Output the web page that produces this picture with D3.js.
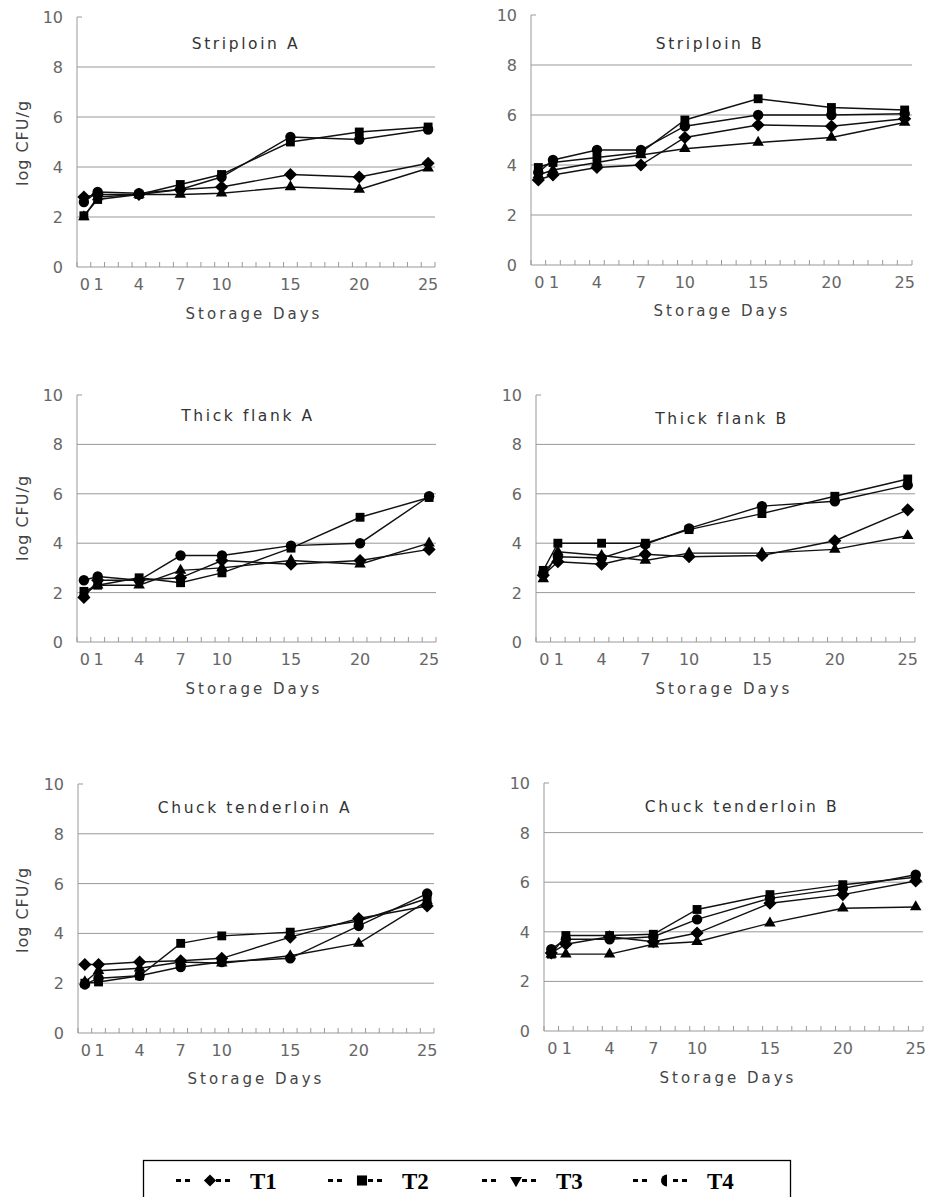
<!DOCTYPE html>
<html>
<head>
<meta charset="utf-8">
<script src="https://cdn.jsdelivr.net/npm/d3@7"></script>
<style>
  body { margin: 0; background: #fff; }
  .chart text { font-family: "DejaVu Sans", sans-serif; }
  .legend text { font-family: "Liberation Serif", "Times New Roman", serif; font-weight: bold; }
</style>
</head>
<body>
<div id="viz"></div>
<script>
// storage days (x values)
var days = [0, 1, 4, 7, 10, 15, 20, 25];
var dayLabels = [0, 1, 4, 7, 10, 15, 20, 25];
var yTicks = [0, 2, 4, 6, 8, 10];
var treatments = ["T1", "T2", "T3", "T4"];
var titles = ["Striploin A", "Striploin B", "Thick flank A", "Thick flank B", "Chuck tenderloin A", "Chuck tenderloin B"];

// log CFU/g, one row per treatment T1..T4
var striploinA = [
  [2.8, 2.9, 2.9, 3.1, 3.2, 3.7, 3.6, 4.15],
  [2.05, 2.7, 2.9, 3.3, 3.7, 5.0, 5.4, 5.6],
  [2.0, 2.8, 2.9, 2.9, 2.95, 3.2, 3.1, 3.95],
  [2.6, 3.0, 2.95, 3.1, 3.6, 5.2, 5.1, 5.5]
];
var striploinB = [
  [3.4, 3.6, 3.9, 4.0, 5.1, 5.6, 5.55, 5.85],
  [3.9, 4.1, 4.3, 4.5, 5.8, 6.65, 6.3, 6.2],
  [3.6, 3.8, 4.1, 4.4, 4.65, 4.9, 5.1, 5.7],
  [3.7, 4.2, 4.6, 4.6, 5.55, 6.0, 6.0, 6.05]
];
var thickFlankA = [
  [1.8, 2.5, 2.5, 2.6, 3.3, 3.15, 3.3, 3.75],
  [2.05, 2.3, 2.6, 2.4, 2.8, 3.8, 5.05, 5.85],
  [1.95, 2.3, 2.3, 2.9, 3.0, 3.3, 3.15, 4.0],
  [2.5, 2.65, 2.5, 3.5, 3.5, 3.9, 4.0, 5.9]
];
var thickFlankB = [
  [2.7, 3.25, 3.15, 3.55, 3.45, 3.5, 4.1, 5.35],
  [2.9, 4.0, 4.0, 4.0, 4.55, 5.2, 5.9, 6.6],
  [2.55, 3.65, 3.5, 3.3, 3.6, 3.6, 3.75, 4.3],
  [2.8, 3.45, 3.4, 3.95, 4.6, 5.5, 5.7, 6.35]
];
var chuckA = [
  [2.75, 2.75, 2.85, 2.9, 3.0, 3.85, 4.6, 5.1],
  [2.0, 2.05, 2.3, 3.6, 3.9, 4.05, 4.5, 5.4],
  [2.05, 2.5, 2.6, 2.85, 2.8, 3.1, 3.6, 5.3],
  [1.95, 2.2, 2.3, 2.65, 2.85, 3.0, 4.3, 5.6]
];
var chuckB = [
  [3.15, 3.5, 3.8, 3.6, 3.95, 5.15, 5.5, 6.05],
  [3.1, 3.85, 3.85, 3.9, 4.9, 5.5, 5.9, 6.2],
  [3.1, 3.1, 3.1, 3.5, 3.6, 4.35, 4.95, 5.0],
  [3.3, 3.7, 3.7, 3.8, 4.5, 5.35, 5.75, 6.3]
];
var panelData = [striploinA, striploinB, thickFlankA, thickFlankB, chuckA, chuckB];

// plot boxes: left, right, top (y=10), bottom (y=0)
var boxes = [
  {l: 77, r: 435, t: 17, b: 267, tx: 246, ty: 49, sx: 254, sy: 319, ylab: 143},
  {l: 531, r: 912, t: 15, b: 265, tx: 710, ty: 49, sx: 722, sy: 316},
  {l: 77, r: 436, t: 395, b: 642, tx: 248, ty: 421, sx: 254, sy: 694, ylab: 518},
  {l: 536, r: 915, t: 395, b: 642, tx: 722, ty: 424, sx: 724, sy: 694},
  {l: 78, r: 434, t: 784, b: 1033, tx: 255, ty: 813, sx: 256, sy: 1084, ylab: 910},
  {l: 544, r: 923, t: 783, b: 1031, tx: 742, ty: 812, sx: 728, sy: 1083}
];

var width = 928, height = 1197;
var svg = d3.select('#viz').append('svg')
  .attr('width', width)
  .attr('height', height);

var shapes = [d3.symbolDiamond2, d3.symbolSquare2, d3.symbolTriangle2, d3.symbolCircle];
var shapeSize = [110, 100, 95, 85];

boxes.forEach(function(b, i) {
  var x = d3.scaleLinear().domain([-0.5, 25.5]).range([b.l, b.r]);
  var y = d3.scaleLinear().domain([0, 10]).range([b.b, b.t]);
  var g = svg.append('g').attr('class', 'chart');

  // gridlines
  g.append('g')
    .selectAll('line')
    .data(yTicks.filter(d => d > 0 && d < 10))
    .join('line')
    .attr('x1', b.l).attr('x2', b.r)
    .attr('y1', d => y(d)).attr('y2', d => y(d))
    .attr('stroke', '#999')
    .attr('stroke-width', 1);

  // y axis
  g.append('line')
    .attr('x1', b.l).attr('x2', b.l)
    .attr('y1', y(10)).attr('y2', y(0))
    .attr('stroke', '#999');
  g.append('line')
    .attr('x1', b.l).attr('x2', b.l + 5)
    .attr('y1', y(10)).attr('y2', y(10))
    .attr('stroke', '#999');
  g.append('g')
    .selectAll('text')
    .data(yTicks)
    .join('text')
    .attr('x', b.l - 14)
    .attr('y', d => y(d) + 6)
    .attr('text-anchor', 'end')
    .attr('font-size', 16)
    .attr('fill', '#666')
    .text(d => d);

  // x axis with a tick between each day
  g.append('line')
    .attr('x1', b.l).attr('x2', b.r)
    .attr('y1', y(0)).attr('y2', y(0))
    .attr('stroke', '#999');
  g.append('g')
    .selectAll('line')
    .data(d3.range(-0.5, 26, 1))
    .join('line')
    .attr('x1', d => x(d)).attr('x2', d => x(d))
    .attr('y1', y(0)).attr('y2', y(0) - 5)
    .attr('stroke', '#999');
  g.append('g')
    .selectAll('text')
    .data(dayLabels)
    .join('text')
    .attr('x', d => x(d) + (d <= 1 ? 1 : 0))
    .attr('y', y(0) + 23)
    .attr('text-anchor', 'middle')
    .attr('font-size', 16)
    .attr('fill', '#666')
    .text(d => d);

  g.append('text')
    .attr('x', b.sx).attr('y', b.sy)
    .attr('text-anchor', 'middle')
    .attr('font-size', 15)
    .attr('letter-spacing', 3)
    .attr('fill', '#444')
    .text('Storage Days');

  g.append('text')
    .attr('x', b.tx).attr('y', b.ty)
    .attr('text-anchor', 'middle')
    .attr('font-size', 15.5)
    .attr('letter-spacing', 2.6)
    .attr('fill', '#333')
    .text(titles[i]);

  if (b.ylab) {
    g.append('text')
      .attr('transform', 'translate(28,' + b.ylab + ') rotate(-90)')
      .attr('text-anchor', 'middle')
      .attr('font-size', 16)
      .attr('letter-spacing', 1)
      .attr('fill', '#444')
      .text('log CFU/g');
  }

  var line = d3.line()
    .x((d, j) => x(days[j]))
    .y(d => y(d));

  panelData[i].forEach(function(vals, s) {
    g.append('path')
      .datum(vals)
      .attr('d', line)
      .attr('fill', 'none')
      .attr('stroke', '#111')
      .attr('stroke-width', 1.4);
  });
  panelData[i].forEach(function(vals, s) {
    g.append('g')
      .selectAll('path')
      .data(vals)
      .join('path')
      .attr('transform', (d, j) => 'translate(' + x(days[j]) + ',' + y(d) + ')')
      .attr('d', d3.symbol().type(shapes[s]).size(shapeSize[s]))
      .attr('fill', '#000');
  });
});

// legend
var legendX = [176, 328, 482, 633];
var lg = svg.append('g').attr('class', 'legend');
lg.append('rect')
  .attr('x', 143.5).attr('y', 1160.5)
  .attr('width', 647).attr('height', 60)
  .attr('fill', 'none')
  .attr('stroke', '#000')
  .attr('stroke-width', 1.3);

var legendMarks = [
  d3.symbol().type(d3.symbolDiamond2).size(95)(),
  d3.symbol().type(d3.symbolSquare2).size(130)(),
  d3.symbol().type(d3.symbolTriangle2).size(100)(),
  d3.arc().innerRadius(0).outerRadius(6).startAngle(Math.PI).endAngle(2 * Math.PI)()
];

treatments.forEach(function(t, i) {
  var x0 = legendX[i];
  var item = lg.append('g');
  item.selectAll('rect')
    .data([0, 9, 40, 49])
    .join('rect')
    .attr('x', d => x0 + d)
    .attr('y', 1179)
    .attr('width', 5)
    .attr('height', 3)
    .attr('fill', '#000');
  item.append('path')
    .attr('transform', 'translate(' + (x0 + 34) + ',1180.5)' + (i == 2 ? ' rotate(180)' : ''))
    .attr('d', legendMarks[i])
    .attr('fill', '#000');
  item.append('text')
    .attr('x', x0 + 74).attr('y', 1189)
    .attr('font-size', 23)
    .text(t);
});
</script>
</body>
</html>
